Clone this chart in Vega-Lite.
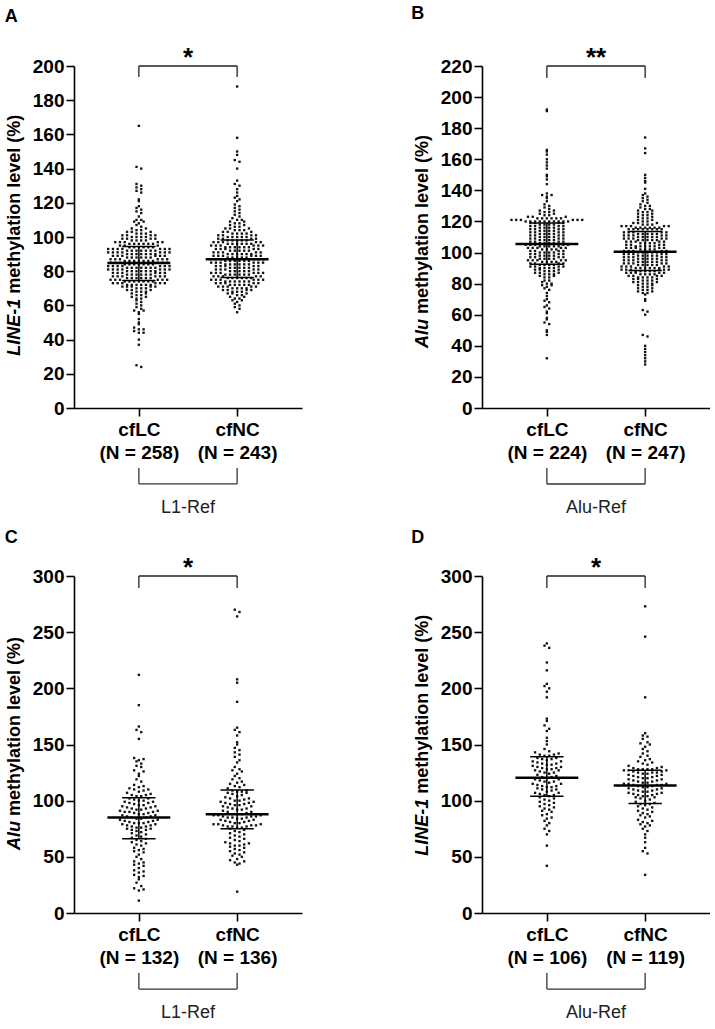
{
"$schema":"https://vega.github.io/schema/vega-lite/v6.json",
"padding":{"left":4,"top":5,"right":0,"bottom":0},
"config":{"font":"Liberation Sans","view":{"stroke":null},
"axis":{"grid":false,"domainColor":"#000","domainWidth":1.6,"tickColor":"#000","tickWidth":1.6,"tickSize":8,"labelColor":"#000","labelFont":"Liberation Sans","labelFontSize":19,"labelFontWeight":"bold","labelOverlap":false,"labelFlush":false}},
"datasets":{
"A":[
{"g":"LC","v":165},{"g":"LC","v":141},{"g":"LC","v":140},{"g":"LC","v":131},{"g":"LC","v":130},{"g":"LC","v":129},{"g":"LC","v":128},{"g":"LC","v":127},{"g":"LC","v":126},{"g":"LC","v":122},{"g":"LC","v":121},{"g":"LC","v":118},{"g":"LC","v":117},{"g":"LC","v":116},{"g":"LC","v":115},{"g":"LC","v":114},{"g":"LC","v":112},{"g":"LC","v":110},{"g":"LC","v":110},{"g":"LC","v":109},{"g":"LC","v":109},{"g":"LC","v":108},{"g":"LC","v":107},{"g":"LC","v":106},
{"g":"LC","v":105},{"g":"LC","v":105},{"g":"LC","v":104},{"g":"LC","v":104},{"g":"LC","v":103},{"g":"LC","v":103},{"g":"LC","v":103},{"g":"LC","v":102},{"g":"LC","v":102},{"g":"LC","v":102},{"g":"LC","v":101},{"g":"LC","v":101},{"g":"LC","v":101},{"g":"LC","v":101},{"g":"LC","v":100},{"g":"LC","v":100},{"g":"LC","v":100},{"g":"LC","v":100},{"g":"LC","v":99},{"g":"LC","v":99},{"g":"LC","v":99},{"g":"LC","v":99},{"g":"LC","v":98},{"g":"LC","v":98},{"g":"LC","v":98},{"g":"LC","v":98},{"g":"LC","v":97},{"g":"LC","v":97},{"g":"LC","v":97},{"g":"LC","v":97},{"g":"LC","v":97},{"g":"LC","v":96},{"g":"LC","v":96},{"g":"LC","v":96},{"g":"LC","v":96},{"g":"LC","v":96},{"g":"LC","v":96},{"g":"LC","v":95},{"g":"LC","v":95},{"g":"LC","v":95},
{"g":"LC","v":94},{"g":"LC","v":94},{"g":"LC","v":94},{"g":"LC","v":94},{"g":"LC","v":94},{"g":"LC","v":94},
{"g":"LC","v":93},{"g":"LC","v":93},{"g":"LC","v":93},{"g":"LC","v":93},{"g":"LC","v":93},{"g":"LC","v":93},{"g":"LC","v":93},
{"g":"LC","v":92},{"g":"LC","v":92},{"g":"LC","v":92},{"g":"LC","v":92},{"g":"LC","v":92},{"g":"LC","v":92},{"g":"LC","v":92},
{"g":"LC","v":91},{"g":"LC","v":91},{"g":"LC","v":91},{"g":"LC","v":91},{"g":"LC","v":91},{"g":"LC","v":91},{"g":"LC","v":91},
{"g":"LC","v":90},{"g":"LC","v":90},{"g":"LC","v":90},{"g":"LC","v":90},{"g":"LC","v":90},{"g":"LC","v":90},{"g":"LC","v":90},
{"g":"LC","v":89},{"g":"LC","v":89},{"g":"LC","v":89},{"g":"LC","v":89},{"g":"LC","v":89},{"g":"LC","v":89},
{"g":"LC","v":88},{"g":"LC","v":88},{"g":"LC","v":88},{"g":"LC","v":88},{"g":"LC","v":88},{"g":"LC","v":88},
{"g":"LC","v":87},{"g":"LC","v":87},{"g":"LC","v":87},{"g":"LC","v":87},{"g":"LC","v":87},{"g":"LC","v":87},
{"g":"LC","v":86},{"g":"LC","v":86},{"g":"LC","v":86},{"g":"LC","v":86},{"g":"LC","v":86},{"g":"LC","v":86},{"g":"LC","v":86},
{"g":"LC","v":85},{"g":"LC","v":85},{"g":"LC","v":85},{"g":"LC","v":85},{"g":"LC","v":85},{"g":"LC","v":85},
{"g":"LC","v":84},{"g":"LC","v":84},{"g":"LC","v":84},{"g":"LC","v":84},{"g":"LC","v":84},{"g":"LC","v":84},{"g":"LC","v":84},
{"g":"LC","v":83},{"g":"LC","v":83},{"g":"LC","v":83},{"g":"LC","v":83},{"g":"LC","v":83},{"g":"LC","v":83},{"g":"LC","v":83},
{"g":"LC","v":82},{"g":"LC","v":82},{"g":"LC","v":82},{"g":"LC","v":82},{"g":"LC","v":82},{"g":"LC","v":82},{"g":"LC","v":82},
{"g":"LC","v":81},{"g":"LC","v":81},{"g":"LC","v":81},{"g":"LC","v":81},{"g":"LC","v":81},{"g":"LC","v":81},{"g":"LC","v":81},
{"g":"LC","v":80},{"g":"LC","v":80},{"g":"LC","v":80},{"g":"LC","v":80},{"g":"LC","v":80},{"g":"LC","v":80},{"g":"LC","v":80},
{"g":"LC","v":79},{"g":"LC","v":79},{"g":"LC","v":79},{"g":"LC","v":79},{"g":"LC","v":79},{"g":"LC","v":79},
{"g":"LC","v":78},{"g":"LC","v":78},{"g":"LC","v":78},{"g":"LC","v":78},{"g":"LC","v":78},{"g":"LC","v":78},
{"g":"LC","v":77},{"g":"LC","v":77},{"g":"LC","v":77},{"g":"LC","v":77},{"g":"LC","v":77},{"g":"LC","v":77},
{"g":"LC","v":76},{"g":"LC","v":76},{"g":"LC","v":76},{"g":"LC","v":76},{"g":"LC","v":76},{"g":"LC","v":76},
{"g":"LC","v":75},{"g":"LC","v":75},{"g":"LC","v":75},{"g":"LC","v":75},{"g":"LC","v":75},{"g":"LC","v":75},
{"g":"LC","v":74},{"g":"LC","v":74},{"g":"LC","v":74},{"g":"LC","v":74},{"g":"LC","v":74},{"g":"LC","v":74},{"g":"LC","v":74},
{"g":"LC","v":73},{"g":"LC","v":73},{"g":"LC","v":73},{"g":"LC","v":73},{"g":"LC","v":73},{"g":"LC","v":73},
{"g":"LC","v":72},{"g":"LC","v":72},{"g":"LC","v":72},{"g":"LC","v":72},{"g":"LC","v":72},{"g":"LC","v":72},
{"g":"LC","v":71},{"g":"LC","v":71},{"g":"LC","v":71},{"g":"LC","v":71},{"g":"LC","v":71},
{"g":"LC","v":70},{"g":"LC","v":70},{"g":"LC","v":70},{"g":"LC","v":69},{"g":"LC","v":69},{"g":"LC","v":69},{"g":"LC","v":68},{"g":"LC","v":68},{"g":"LC","v":68},{"g":"LC","v":67},{"g":"LC","v":67},{"g":"LC","v":66},{"g":"LC","v":66},{"g":"LC","v":65},{"g":"LC","v":65},{"g":"LC","v":64},{"g":"LC","v":64},{"g":"LC","v":63},{"g":"LC","v":62},{"g":"LC","v":61},{"g":"LC","v":60},{"g":"LC","v":59},{"g":"LC","v":58},{"g":"LC","v":57},{"g":"LC","v":57},{"g":"LC","v":56},{"g":"LC","v":55},{"g":"LC","v":52},{"g":"LC","v":50},{"g":"LC","v":49},{"g":"LC","v":47},{"g":"LC","v":46},{"g":"LC","v":46},{"g":"LC","v":45},{"g":"LC","v":44},{"g":"LC","v":44},{"g":"LC","v":40},{"g":"LC","v":37},{"g":"LC","v":25},{"g":"LC","v":24},
{"g":"NC","v":188},{"g":"NC","v":158},{"g":"NC","v":150},{"g":"NC","v":148},{"g":"NC","v":145},{"g":"NC","v":144},{"g":"NC","v":140},{"g":"NC","v":133},{"g":"NC","v":131},{"g":"NC","v":130},{"g":"NC","v":128},{"g":"NC","v":126},{"g":"NC","v":124},{"g":"NC","v":123},{"g":"NC","v":122},{"g":"NC","v":121},{"g":"NC","v":119},{"g":"NC","v":118},{"g":"NC","v":117},{"g":"NC","v":116},{"g":"NC","v":115},{"g":"NC","v":114},{"g":"NC","v":113},{"g":"NC","v":112},{"g":"NC","v":111},{"g":"NC","v":110},{"g":"NC","v":110},{"g":"NC","v":109},{"g":"NC","v":109},{"g":"NC","v":108},{"g":"NC","v":108},{"g":"NC","v":107},{"g":"NC","v":107},{"g":"NC","v":106},{"g":"NC","v":106},{"g":"NC","v":105},{"g":"NC","v":105},{"g":"NC","v":105},{"g":"NC","v":104},{"g":"NC","v":104},{"g":"NC","v":104},{"g":"NC","v":103},{"g":"NC","v":103},{"g":"NC","v":103},{"g":"NC","v":102},{"g":"NC","v":102},{"g":"NC","v":102},{"g":"NC","v":102},{"g":"NC","v":101},{"g":"NC","v":101},{"g":"NC","v":101},{"g":"NC","v":101},{"g":"NC","v":100},{"g":"NC","v":100},{"g":"NC","v":100},{"g":"NC","v":100},{"g":"NC","v":100},{"g":"NC","v":99},{"g":"NC","v":99},{"g":"NC","v":99},{"g":"NC","v":99},
{"g":"NC","v":98},{"g":"NC","v":98},{"g":"NC","v":98},{"g":"NC","v":98},{"g":"NC","v":98},
{"g":"NC","v":97},{"g":"NC","v":97},{"g":"NC","v":97},{"g":"NC","v":97},{"g":"NC","v":97},
{"g":"NC","v":96},{"g":"NC","v":96},{"g":"NC","v":96},{"g":"NC","v":96},{"g":"NC","v":96},{"g":"NC","v":96},
{"g":"NC","v":95},{"g":"NC","v":95},{"g":"NC","v":95},{"g":"NC","v":95},{"g":"NC","v":95},{"g":"NC","v":95},
{"g":"NC","v":94},{"g":"NC","v":94},{"g":"NC","v":94},{"g":"NC","v":94},{"g":"NC","v":94},{"g":"NC","v":94},
{"g":"NC","v":93},{"g":"NC","v":93},{"g":"NC","v":93},{"g":"NC","v":93},{"g":"NC","v":93},
{"g":"NC","v":92},{"g":"NC","v":92},{"g":"NC","v":92},{"g":"NC","v":92},{"g":"NC","v":92},
{"g":"NC","v":91},{"g":"NC","v":91},{"g":"NC","v":91},{"g":"NC","v":91},{"g":"NC","v":91},
{"g":"NC","v":90},{"g":"NC","v":90},{"g":"NC","v":90},{"g":"NC","v":90},{"g":"NC","v":90},{"g":"NC","v":90},
{"g":"NC","v":89},{"g":"NC","v":89},{"g":"NC","v":89},{"g":"NC","v":89},{"g":"NC","v":89},{"g":"NC","v":89},
{"g":"NC","v":88},{"g":"NC","v":88},{"g":"NC","v":88},{"g":"NC","v":88},{"g":"NC","v":88},
{"g":"NC","v":87},{"g":"NC","v":87},{"g":"NC","v":87},{"g":"NC","v":87},{"g":"NC","v":87},{"g":"NC","v":87},
{"g":"NC","v":86},{"g":"NC","v":86},{"g":"NC","v":86},{"g":"NC","v":86},{"g":"NC","v":86},{"g":"NC","v":86},
{"g":"NC","v":85},{"g":"NC","v":85},{"g":"NC","v":85},{"g":"NC","v":85},{"g":"NC","v":85},{"g":"NC","v":85},
{"g":"NC","v":84},{"g":"NC","v":84},{"g":"NC","v":84},{"g":"NC","v":84},{"g":"NC","v":84},{"g":"NC","v":84},
{"g":"NC","v":83},{"g":"NC","v":83},{"g":"NC","v":83},{"g":"NC","v":83},{"g":"NC","v":83},
{"g":"NC","v":82},{"g":"NC","v":82},{"g":"NC","v":82},{"g":"NC","v":82},{"g":"NC","v":82},
{"g":"NC","v":81},{"g":"NC","v":81},{"g":"NC","v":81},{"g":"NC","v":81},{"g":"NC","v":81},
{"g":"NC","v":80},{"g":"NC","v":80},{"g":"NC","v":80},{"g":"NC","v":80},{"g":"NC","v":80},
{"g":"NC","v":79},{"g":"NC","v":79},{"g":"NC","v":79},{"g":"NC","v":79},{"g":"NC","v":79},{"g":"NC","v":79},
{"g":"NC","v":78},{"g":"NC","v":78},{"g":"NC","v":78},{"g":"NC","v":78},{"g":"NC","v":78},{"g":"NC","v":78},
{"g":"NC","v":77},{"g":"NC","v":77},{"g":"NC","v":77},{"g":"NC","v":77},{"g":"NC","v":77},
{"g":"NC","v":76},{"g":"NC","v":76},{"g":"NC","v":76},{"g":"NC","v":76},{"g":"NC","v":76},{"g":"NC","v":76},
{"g":"NC","v":75},{"g":"NC","v":75},{"g":"NC","v":75},{"g":"NC","v":75},{"g":"NC","v":75},{"g":"NC","v":75},
{"g":"NC","v":74},{"g":"NC","v":74},{"g":"NC","v":74},{"g":"NC","v":74},{"g":"NC","v":74},{"g":"NC","v":74},
{"g":"NC","v":73},{"g":"NC","v":73},{"g":"NC","v":73},{"g":"NC","v":73},{"g":"NC","v":73},
{"g":"NC","v":72},{"g":"NC","v":72},{"g":"NC","v":72},{"g":"NC","v":72},{"g":"NC","v":72},
{"g":"NC","v":71},{"g":"NC","v":71},{"g":"NC","v":71},{"g":"NC","v":71},{"g":"NC","v":71},
{"g":"NC","v":70},{"g":"NC","v":70},{"g":"NC","v":70},{"g":"NC","v":70},
{"g":"NC","v":69},{"g":"NC","v":69},{"g":"NC","v":69},{"g":"NC","v":69},
{"g":"NC","v":68},{"g":"NC","v":68},{"g":"NC","v":68},{"g":"NC","v":67},{"g":"NC","v":67},{"g":"NC","v":67},
{"g":"NC","v":66},{"g":"NC","v":66},{"g":"NC","v":65},{"g":"NC","v":65},{"g":"NC","v":64},{"g":"NC","v":64},{"g":"NC","v":63},{"g":"NC","v":63},{"g":"NC","v":62},{"g":"NC","v":61},{"g":"NC","v":60},{"g":"NC","v":59},{"g":"NC","v":58},{"g":"NC","v":56}
],
"B":[
{"g":"LC","v":192},{"g":"LC","v":191},{"g":"LC","v":166},{"g":"LC","v":165},{"g":"LC","v":163},{"g":"LC","v":160},{"g":"LC","v":158},{"g":"LC","v":156},{"g":"LC","v":154},{"g":"LC","v":150},
{"g":"LC","v":149},{"g":"LC","v":147},{"g":"LC","v":144},{"g":"LC","v":138},{"g":"LC","v":137},{"g":"LC","v":137},{"g":"LC","v":136},{"g":"LC","v":135},{"g":"LC","v":133},{"g":"LC","v":131},
{"g":"LC","v":130},{"g":"LC","v":129},{"g":"LC","v":128},{"g":"LC","v":127},{"g":"LC","v":127},{"g":"LC","v":126},{"g":"LC","v":126},{"g":"LC","v":125},{"g":"LC","v":125},{"g":"LC","v":124},
{"g":"LC","v":124},{"g":"LC","v":123},{"g":"LC","v":123},{"g":"LC","v":123},{"g":"LC","v":122},{"g":"LC","v":122},{"g":"LC","v":122},{"g":"LC","v":122},{"g":"LC","v":122},{"g":"LC","v":122},
{"g":"LC","v":121},{"g":"LC","v":121},{"g":"LC","v":121},{"g":"LC","v":121},{"g":"LC","v":121},{"g":"LC","v":121},{"g":"LC","v":120},{"g":"LC","v":120},{"g":"LC","v":120},{"g":"LC","v":120},
{"g":"LC","v":120},{"g":"LC","v":120},{"g":"LC","v":120},{"g":"LC","v":120},{"g":"LC","v":120},{"g":"LC","v":120},
{"g":"LC","v":119},{"g":"LC","v":119},{"g":"LC","v":119},{"g":"LC","v":119},{"g":"LC","v":118},{"g":"LC","v":118},{"g":"LC","v":118},{"g":"LC","v":118},{"g":"LC","v":117},{"g":"LC","v":117},{"g":"LC","v":117},{"g":"LC","v":117},{"g":"LC","v":116},{"g":"LC","v":116},{"g":"LC","v":116},{"g":"LC","v":116},{"g":"LC","v":115},{"g":"LC","v":115},{"g":"LC","v":115},{"g":"LC","v":115},{"g":"LC","v":114},{"g":"LC","v":114},{"g":"LC","v":114},{"g":"LC","v":114},{"g":"LC","v":113},{"g":"LC","v":113},{"g":"LC","v":113},{"g":"LC","v":113},{"g":"LC","v":112},{"g":"LC","v":112},{"g":"LC","v":112},{"g":"LC","v":112},{"g":"LC","v":111},{"g":"LC","v":111},{"g":"LC","v":111},{"g":"LC","v":111},{"g":"LC","v":110},{"g":"LC","v":110},{"g":"LC","v":110},{"g":"LC","v":110},{"g":"LC","v":109},{"g":"LC","v":109},{"g":"LC","v":109},{"g":"LC","v":109},{"g":"LC","v":108},{"g":"LC","v":108},{"g":"LC","v":108},{"g":"LC","v":108},{"g":"LC","v":107},{"g":"LC","v":107},{"g":"LC","v":107},{"g":"LC","v":107},{"g":"LC","v":106},{"g":"LC","v":106},{"g":"LC","v":106},{"g":"LC","v":106},
{"g":"LC","v":105},{"g":"LC","v":105},{"g":"LC","v":105},{"g":"LC","v":105},{"g":"LC","v":105},{"g":"LC","v":104},{"g":"LC","v":104},{"g":"LC","v":104},{"g":"LC","v":104},{"g":"LC","v":104},{"g":"LC","v":103},{"g":"LC","v":103},{"g":"LC","v":103},{"g":"LC","v":103},{"g":"LC","v":103},{"g":"LC","v":102},{"g":"LC","v":102},{"g":"LC","v":102},{"g":"LC","v":102},{"g":"LC","v":101},{"g":"LC","v":101},{"g":"LC","v":101},{"g":"LC","v":101},{"g":"LC","v":100},{"g":"LC","v":100},{"g":"LC","v":100},{"g":"LC","v":100},{"g":"LC","v":99},{"g":"LC","v":99},{"g":"LC","v":99},{"g":"LC","v":99},{"g":"LC","v":98},{"g":"LC","v":98},{"g":"LC","v":98},{"g":"LC","v":98},{"g":"LC","v":97},{"g":"LC","v":97},{"g":"LC","v":97},{"g":"LC","v":97},{"g":"LC","v":96},{"g":"LC","v":96},{"g":"LC","v":96},{"g":"LC","v":96},{"g":"LC","v":95},{"g":"LC","v":95},{"g":"LC","v":95},{"g":"LC","v":95},{"g":"LC","v":95},{"g":"LC","v":94},{"g":"LC","v":94},{"g":"LC","v":94},{"g":"LC","v":94},{"g":"LC","v":93},{"g":"LC","v":93},{"g":"LC","v":93},{"g":"LC","v":93},
{"g":"LC","v":92},{"g":"LC","v":92},{"g":"LC","v":92},{"g":"LC","v":92},{"g":"LC","v":91},{"g":"LC","v":91},{"g":"LC","v":91},{"g":"LC","v":91},{"g":"LC","v":90},{"g":"LC","v":90},{"g":"LC","v":90},{"g":"LC","v":90},{"g":"LC","v":89},{"g":"LC","v":89},{"g":"LC","v":89},{"g":"LC","v":88},{"g":"LC","v":88},{"g":"LC","v":88},{"g":"LC","v":87},{"g":"LC","v":87},{"g":"LC","v":87},{"g":"LC","v":86},{"g":"LC","v":86},{"g":"LC","v":86},{"g":"LC","v":85},{"g":"LC","v":85},{"g":"LC","v":84},{"g":"LC","v":84},{"g":"LC","v":82},{"g":"LC","v":82},{"g":"LC","v":81},{"g":"LC","v":80},{"g":"LC","v":80},{"g":"LC","v":79},{"g":"LC","v":79},{"g":"LC","v":78},{"g":"LC","v":77},{"g":"LC","v":76},{"g":"LC","v":74},{"g":"LC","v":72},{"g":"LC","v":70},{"g":"LC","v":69},{"g":"LC","v":68},{"g":"LC","v":66},{"g":"LC","v":65},{"g":"LC","v":64},{"g":"LC","v":62},{"g":"LC","v":61},{"g":"LC","v":58},{"g":"LC","v":57},{"g":"LC","v":55},{"g":"LC","v":54},{"g":"LC","v":50},{"g":"LC","v":49},{"g":"LC","v":47},{"g":"LC","v":32},
{"g":"NC","v":174},{"g":"NC","v":167},{"g":"NC","v":164},{"g":"NC","v":150},{"g":"NC","v":148},{"g":"NC","v":146},{"g":"NC","v":145},{"g":"NC","v":141},{"g":"NC","v":138},{"g":"NC","v":137},
{"g":"NC","v":136},{"g":"NC","v":135},{"g":"NC","v":134},{"g":"NC","v":133},{"g":"NC","v":132},{"g":"NC","v":131},{"g":"NC","v":130},{"g":"NC","v":130},{"g":"NC","v":129},{"g":"NC","v":128},
{"g":"NC","v":128},{"g":"NC","v":127},{"g":"NC","v":127},{"g":"NC","v":126},{"g":"NC","v":126},{"g":"NC","v":125},{"g":"NC","v":125},{"g":"NC","v":124},{"g":"NC","v":124},{"g":"NC","v":123},
{"g":"NC","v":123},{"g":"NC","v":122},{"g":"NC","v":122},{"g":"NC","v":121},{"g":"NC","v":121},{"g":"NC","v":120},{"g":"NC","v":120},{"g":"NC","v":119},{"g":"NC","v":119},{"g":"NC","v":119},
{"g":"NC","v":118},{"g":"NC","v":118},{"g":"NC","v":118},{"g":"NC","v":117},{"g":"NC","v":117},{"g":"NC","v":117},{"g":"NC","v":117},{"g":"NC","v":117},{"g":"NC","v":116},{"g":"NC","v":116},
{"g":"NC","v":116},{"g":"NC","v":116},{"g":"NC","v":116},{"g":"NC","v":116},{"g":"NC","v":115},{"g":"NC","v":115},{"g":"NC","v":115},{"g":"NC","v":115},{"g":"NC","v":115},{"g":"NC","v":115},{"g":"NC","v":115},{"g":"NC","v":115},
{"g":"NC","v":113},{"g":"NC","v":113},{"g":"NC","v":113},{"g":"NC","v":113},{"g":"NC","v":113},{"g":"NC","v":112},{"g":"NC","v":112},{"g":"NC","v":112},{"g":"NC","v":112},{"g":"NC","v":112},{"g":"NC","v":111},{"g":"NC","v":111},{"g":"NC","v":111},{"g":"NC","v":111},{"g":"NC","v":111},{"g":"NC","v":110},{"g":"NC","v":110},{"g":"NC","v":110},{"g":"NC","v":110},{"g":"NC","v":110},{"g":"NC","v":109},{"g":"NC","v":109},{"g":"NC","v":109},{"g":"NC","v":109},{"g":"NC","v":109},{"g":"NC","v":108},{"g":"NC","v":108},{"g":"NC","v":108},{"g":"NC","v":108},{"g":"NC","v":108},{"g":"NC","v":107},{"g":"NC","v":107},{"g":"NC","v":107},{"g":"NC","v":107},{"g":"NC","v":107},{"g":"NC","v":106},{"g":"NC","v":106},{"g":"NC","v":106},{"g":"NC","v":106},{"g":"NC","v":105},{"g":"NC","v":105},{"g":"NC","v":105},{"g":"NC","v":105},{"g":"NC","v":104},{"g":"NC","v":104},{"g":"NC","v":104},{"g":"NC","v":104},{"g":"NC","v":104},{"g":"NC","v":103},{"g":"NC","v":103},{"g":"NC","v":103},{"g":"NC","v":103},{"g":"NC","v":103},{"g":"NC","v":102},{"g":"NC","v":102},{"g":"NC","v":102},{"g":"NC","v":102},{"g":"NC","v":101},{"g":"NC","v":101},{"g":"NC","v":101},{"g":"NC","v":101},{"g":"NC","v":101},
{"g":"NC","v":100},{"g":"NC","v":100},{"g":"NC","v":100},{"g":"NC","v":100},{"g":"NC","v":100},{"g":"NC","v":99},{"g":"NC","v":99},{"g":"NC","v":99},{"g":"NC","v":99},{"g":"NC","v":99},{"g":"NC","v":98},{"g":"NC","v":98},{"g":"NC","v":98},{"g":"NC","v":98},{"g":"NC","v":98},{"g":"NC","v":97},{"g":"NC","v":97},{"g":"NC","v":97},{"g":"NC","v":97},{"g":"NC","v":97},{"g":"NC","v":96},{"g":"NC","v":96},{"g":"NC","v":96},{"g":"NC","v":96},{"g":"NC","v":96},{"g":"NC","v":95},{"g":"NC","v":95},{"g":"NC","v":95},{"g":"NC","v":95},{"g":"NC","v":95},{"g":"NC","v":94},{"g":"NC","v":94},{"g":"NC","v":94},{"g":"NC","v":94},{"g":"NC","v":94},{"g":"NC","v":93},{"g":"NC","v":93},{"g":"NC","v":93},{"g":"NC","v":93},{"g":"NC","v":93},{"g":"NC","v":92},{"g":"NC","v":92},{"g":"NC","v":92},{"g":"NC","v":92},{"g":"NC","v":92},{"g":"NC","v":91},{"g":"NC","v":91},{"g":"NC","v":91},{"g":"NC","v":91},{"g":"NC","v":91},{"g":"NC","v":90},{"g":"NC","v":90},{"g":"NC","v":90},{"g":"NC","v":90},{"g":"NC","v":90},{"g":"NC","v":90},{"g":"NC","v":89},{"g":"NC","v":89},{"g":"NC","v":89},{"g":"NC","v":89},{"g":"NC","v":89},{"g":"NC","v":89},
{"g":"NC","v":88},{"g":"NC","v":88},{"g":"NC","v":88},{"g":"NC","v":88},{"g":"NC","v":88},{"g":"NC","v":87},{"g":"NC","v":87},{"g":"NC","v":87},{"g":"NC","v":87},{"g":"NC","v":87},{"g":"NC","v":86},{"g":"NC","v":86},{"g":"NC","v":86},{"g":"NC","v":86},{"g":"NC","v":85},{"g":"NC","v":85},{"g":"NC","v":85},{"g":"NC","v":85},{"g":"NC","v":84},{"g":"NC","v":84},{"g":"NC","v":84},{"g":"NC","v":84},{"g":"NC","v":83},{"g":"NC","v":83},{"g":"NC","v":83},{"g":"NC","v":82},{"g":"NC","v":82},{"g":"NC","v":82},{"g":"NC","v":81},{"g":"NC","v":81},{"g":"NC","v":81},{"g":"NC","v":80},{"g":"NC","v":80},{"g":"NC","v":80},{"g":"NC","v":79},{"g":"NC","v":79},{"g":"NC","v":78},{"g":"NC","v":78},{"g":"NC","v":77},{"g":"NC","v":77},{"g":"NC","v":76},{"g":"NC","v":76},{"g":"NC","v":75},{"g":"NC","v":75},{"g":"NC","v":74},{"g":"NC","v":74},{"g":"NC","v":73},{"g":"NC","v":70},{"g":"NC","v":69},{"g":"NC","v":63},{"g":"NC","v":62},{"g":"NC","v":60},{"g":"NC","v":47},{"g":"NC","v":46},{"g":"NC","v":40},{"g":"NC","v":38},{"g":"NC","v":36},{"g":"NC","v":34},{"g":"NC","v":32},{"g":"NC","v":30},{"g":"NC","v":28}
],
"C":[
{"g":"LC","v":212},{"g":"LC","v":185},{"g":"LC","v":166},{"g":"LC","v":163},{"g":"LC","v":161},{"g":"LC","v":155},{"g":"LC","v":138},{"g":"LC","v":137},{"g":"LC","v":136},{"g":"LC","v":135},{"g":"LC","v":133},{"g":"LC","v":131},{"g":"LC","v":130},{"g":"LC","v":127},{"g":"LC","v":126},{"g":"LC","v":124},{"g":"LC","v":122},{"g":"LC","v":119},{"g":"LC","v":117},{"g":"LC","v":114},{"g":"LC","v":113},{"g":"LC","v":112},{"g":"LC","v":111},{"g":"LC","v":110},{"g":"LC","v":110},{"g":"LC","v":109},{"g":"LC","v":108},{"g":"LC","v":107},{"g":"LC","v":106},{"g":"LC","v":105},{"g":"LC","v":105},{"g":"LC","v":104},{"g":"LC","v":104},
{"g":"LC","v":102},{"g":"LC","v":102},{"g":"LC","v":101},{"g":"LC","v":100},{"g":"LC","v":100},{"g":"LC","v":99},{"g":"LC","v":99},{"g":"LC","v":98},{"g":"LC","v":98},{"g":"LC","v":97},{"g":"LC","v":96},{"g":"LC","v":96},{"g":"LC","v":95},{"g":"LC","v":95},{"g":"LC","v":94},{"g":"LC","v":94},{"g":"LC","v":93},{"g":"LC","v":93},{"g":"LC","v":92},{"g":"LC","v":92},{"g":"LC","v":91},{"g":"LC","v":91},{"g":"LC","v":90},{"g":"LC","v":90},{"g":"LC","v":90},{"g":"LC","v":89},{"g":"LC","v":89},{"g":"LC","v":88},{"g":"LC","v":88},{"g":"LC","v":87},{"g":"LC","v":87},{"g":"LC","v":86},{"g":"LC","v":86},
{"g":"LC","v":85},{"g":"LC","v":85},{"g":"LC","v":84},{"g":"LC","v":84},{"g":"LC","v":83},{"g":"LC","v":83},{"g":"LC","v":82},{"g":"LC","v":82},{"g":"LC","v":81},{"g":"LC","v":81},{"g":"LC","v":80},{"g":"LC","v":80},{"g":"LC","v":80},{"g":"LC","v":79},{"g":"LC","v":79},{"g":"LC","v":78},{"g":"LC","v":78},{"g":"LC","v":77},{"g":"LC","v":77},{"g":"LC","v":76},{"g":"LC","v":76},{"g":"LC","v":75},{"g":"LC","v":75},{"g":"LC","v":74},{"g":"LC","v":74},{"g":"LC","v":73},{"g":"LC","v":72},{"g":"LC","v":71},{"g":"LC","v":70},{"g":"LC","v":69},{"g":"LC","v":68},{"g":"LC","v":67},{"g":"LC","v":66},
{"g":"LC","v":65},{"g":"LC","v":64},{"g":"LC","v":63},{"g":"LC","v":62},{"g":"LC","v":61},{"g":"LC","v":60},{"g":"LC","v":58},{"g":"LC","v":57},{"g":"LC","v":56},{"g":"LC","v":55},{"g":"LC","v":54},{"g":"LC","v":52},{"g":"LC","v":50},{"g":"LC","v":48},{"g":"LC","v":46},{"g":"LC","v":45},{"g":"LC","v":44},{"g":"LC","v":43},{"g":"LC","v":42},{"g":"LC","v":40},{"g":"LC","v":38},{"g":"LC","v":37},{"g":"LC","v":36},{"g":"LC","v":34},{"g":"LC","v":33},{"g":"LC","v":32},{"g":"LC","v":30},{"g":"LC","v":27},{"g":"LC","v":24},{"g":"LC","v":22},{"g":"LC","v":21},{"g":"LC","v":20},{"g":"LC","v":11},
{"g":"NC","v":270},{"g":"NC","v":268},{"g":"NC","v":264},{"g":"NC","v":208},{"g":"NC","v":205},{"g":"NC","v":188},{"g":"NC","v":165},{"g":"NC","v":163},{"g":"NC","v":161},{"g":"NC","v":158},{"g":"NC","v":152},{"g":"NC","v":150},{"g":"NC","v":147},{"g":"NC","v":145},{"g":"NC","v":143},{"g":"NC","v":141},{"g":"NC","v":139},{"g":"NC","v":136},{"g":"NC","v":134},{"g":"NC","v":130},{"g":"NC","v":128},{"g":"NC","v":127},{"g":"NC","v":126},{"g":"NC","v":124},{"g":"NC","v":122},{"g":"NC","v":120},{"g":"NC","v":119},{"g":"NC","v":117},{"g":"NC","v":116},{"g":"NC","v":115},{"g":"NC","v":114},{"g":"NC","v":113},{"g":"NC","v":112},{"g":"NC","v":111},
{"g":"NC","v":109},{"g":"NC","v":109},{"g":"NC","v":108},{"g":"NC","v":108},{"g":"NC","v":107},{"g":"NC","v":107},{"g":"NC","v":106},{"g":"NC","v":105},{"g":"NC","v":104},{"g":"NC","v":103},{"g":"NC","v":102},{"g":"NC","v":102},{"g":"NC","v":101},{"g":"NC","v":100},{"g":"NC","v":100},{"g":"NC","v":99},{"g":"NC","v":99},{"g":"NC","v":98},{"g":"NC","v":98},{"g":"NC","v":97},{"g":"NC","v":97},{"g":"NC","v":96},{"g":"NC","v":96},{"g":"NC","v":95},{"g":"NC","v":95},{"g":"NC","v":94},{"g":"NC","v":93},{"g":"NC","v":93},{"g":"NC","v":92},{"g":"NC","v":92},{"g":"NC","v":91},{"g":"NC","v":90},{"g":"NC","v":90},{"g":"NC","v":89},
{"g":"NC","v":88},{"g":"NC","v":88},{"g":"NC","v":88},{"g":"NC","v":87},{"g":"NC","v":87},{"g":"NC","v":87},{"g":"NC","v":86},{"g":"NC","v":86},{"g":"NC","v":86},{"g":"NC","v":85},{"g":"NC","v":85},{"g":"NC","v":85},{"g":"NC","v":84},{"g":"NC","v":84},{"g":"NC","v":83},{"g":"NC","v":83},{"g":"NC","v":82},{"g":"NC","v":82},{"g":"NC","v":81},{"g":"NC","v":81},{"g":"NC","v":80},{"g":"NC","v":80},{"g":"NC","v":79},{"g":"NC","v":79},{"g":"NC","v":79},{"g":"NC","v":78},{"g":"NC","v":78},{"g":"NC","v":78},{"g":"NC","v":77},{"g":"NC","v":77},{"g":"NC","v":77},{"g":"NC","v":76},{"g":"NC","v":76},{"g":"NC","v":75},
{"g":"NC","v":74},{"g":"NC","v":73},{"g":"NC","v":72},{"g":"NC","v":71},{"g":"NC","v":70},{"g":"NC","v":69},{"g":"NC","v":68},{"g":"NC","v":67},{"g":"NC","v":66},{"g":"NC","v":65},{"g":"NC","v":64},{"g":"NC","v":63},{"g":"NC","v":62},{"g":"NC","v":62},{"g":"NC","v":61},{"g":"NC","v":60},{"g":"NC","v":60},{"g":"NC","v":59},{"g":"NC","v":58},{"g":"NC","v":57},{"g":"NC","v":56},{"g":"NC","v":55},{"g":"NC","v":54},{"g":"NC","v":53},{"g":"NC","v":52},{"g":"NC","v":51},{"g":"NC","v":50},{"g":"NC","v":48},{"g":"NC","v":47},{"g":"NC","v":46},{"g":"NC","v":45},{"g":"NC","v":44},{"g":"NC","v":43},{"g":"NC","v":19}
],
"D":[
{"g":"LC","v":240},{"g":"LC","v":238},{"g":"LC","v":236},{"g":"LC","v":223},{"g":"LC","v":216},{"g":"LC","v":204},{"g":"LC","v":202},{"g":"LC","v":200},{"g":"LC","v":197},{"g":"LC","v":192},{"g":"LC","v":173},{"g":"LC","v":171},{"g":"LC","v":167},{"g":"LC","v":164},{"g":"LC","v":162},{"g":"LC","v":156},{"g":"LC","v":153},{"g":"LC","v":150},{"g":"LC","v":146},{"g":"LC","v":144},{"g":"LC","v":143},{"g":"LC","v":142},{"g":"LC","v":141},{"g":"LC","v":141},{"g":"LC","v":140},{"g":"LC","v":140},
{"g":"LC","v":138},{"g":"LC","v":138},{"g":"LC","v":137},{"g":"LC","v":137},{"g":"LC","v":136},{"g":"LC","v":135},{"g":"LC","v":135},{"g":"LC","v":134},{"g":"LC","v":133},{"g":"LC","v":133},{"g":"LC","v":132},{"g":"LC","v":132},{"g":"LC","v":131},{"g":"LC","v":130},{"g":"LC","v":130},{"g":"LC","v":129},{"g":"LC","v":129},{"g":"LC","v":128},{"g":"LC","v":128},{"g":"LC","v":127},{"g":"LC","v":127},{"g":"LC","v":126},{"g":"LC","v":125},{"g":"LC","v":125},{"g":"LC","v":124},{"g":"LC","v":123},{"g":"LC","v":122},
{"g":"LC","v":121},{"g":"LC","v":121},{"g":"LC","v":120},{"g":"LC","v":119},{"g":"LC","v":119},{"g":"LC","v":118},{"g":"LC","v":117},{"g":"LC","v":117},{"g":"LC","v":116},{"g":"LC","v":115},{"g":"LC","v":115},{"g":"LC","v":114},{"g":"LC","v":113},{"g":"LC","v":113},{"g":"LC","v":112},{"g":"LC","v":112},{"g":"LC","v":111},{"g":"LC","v":110},{"g":"LC","v":110},{"g":"LC","v":109},{"g":"LC","v":108},{"g":"LC","v":107},{"g":"LC","v":107},{"g":"LC","v":106},{"g":"LC","v":105},{"g":"LC","v":105},{"g":"LC","v":104},
{"g":"LC","v":103},{"g":"LC","v":102},{"g":"LC","v":101},{"g":"LC","v":100},{"g":"LC","v":99},{"g":"LC","v":98},{"g":"LC","v":97},{"g":"LC","v":96},{"g":"LC","v":95},{"g":"LC","v":94},{"g":"LC","v":93},{"g":"LC","v":92},{"g":"LC","v":91},{"g":"LC","v":90},{"g":"LC","v":88},{"g":"LC","v":87},{"g":"LC","v":85},{"g":"LC","v":84},{"g":"LC","v":82},{"g":"LC","v":80},{"g":"LC","v":78},{"g":"LC","v":75},{"g":"LC","v":73},{"g":"LC","v":70},{"g":"LC","v":60},{"g":"LC","v":42},
{"g":"NC","v":273},{"g":"NC","v":246},{"g":"NC","v":192},{"g":"NC","v":160},{"g":"NC","v":158},{"g":"NC","v":157},{"g":"NC","v":155},{"g":"NC","v":152},{"g":"NC","v":151},{"g":"NC","v":150},{"g":"NC","v":148},{"g":"NC","v":146},{"g":"NC","v":144},{"g":"NC","v":142},{"g":"NC","v":140},{"g":"NC","v":139},{"g":"NC","v":137},{"g":"NC","v":136},{"g":"NC","v":135},{"g":"NC","v":134},{"g":"NC","v":133},{"g":"NC","v":132},{"g":"NC","v":131},{"g":"NC","v":130},{"g":"NC","v":129},{"g":"NC","v":129},{"g":"NC","v":128},{"g":"NC","v":128},{"g":"NC","v":128},{"g":"NC","v":128},
{"g":"NC","v":127},{"g":"NC","v":127},{"g":"NC","v":127},{"g":"NC","v":126},{"g":"NC","v":126},{"g":"NC","v":125},{"g":"NC","v":125},{"g":"NC","v":125},{"g":"NC","v":124},{"g":"NC","v":124},{"g":"NC","v":123},{"g":"NC","v":123},{"g":"NC","v":122},{"g":"NC","v":122},{"g":"NC","v":121},{"g":"NC","v":121},{"g":"NC","v":120},{"g":"NC","v":120},{"g":"NC","v":119},{"g":"NC","v":119},{"g":"NC","v":118},{"g":"NC","v":118},{"g":"NC","v":117},{"g":"NC","v":117},{"g":"NC","v":116},{"g":"NC","v":116},{"g":"NC","v":115},{"g":"NC","v":115},{"g":"NC","v":115},
{"g":"NC","v":114},{"g":"NC","v":114},{"g":"NC","v":114},{"g":"NC","v":113},{"g":"NC","v":113},{"g":"NC","v":112},{"g":"NC","v":112},{"g":"NC","v":111},{"g":"NC","v":111},{"g":"NC","v":110},{"g":"NC","v":110},{"g":"NC","v":109},{"g":"NC","v":109},{"g":"NC","v":108},{"g":"NC","v":108},{"g":"NC","v":107},{"g":"NC","v":107},{"g":"NC","v":106},{"g":"NC","v":106},{"g":"NC","v":105},{"g":"NC","v":105},{"g":"NC","v":104},{"g":"NC","v":104},{"g":"NC","v":103},{"g":"NC","v":103},{"g":"NC","v":102},{"g":"NC","v":101},{"g":"NC","v":100},{"g":"NC","v":99},{"g":"NC","v":98},
{"g":"NC","v":97},{"g":"NC","v":97},{"g":"NC","v":96},{"g":"NC","v":95},{"g":"NC","v":94},{"g":"NC","v":93},{"g":"NC","v":92},{"g":"NC","v":91},{"g":"NC","v":90},{"g":"NC","v":89},{"g":"NC","v":88},{"g":"NC","v":87},{"g":"NC","v":86},{"g":"NC","v":85},{"g":"NC","v":83},{"g":"NC","v":82},{"g":"NC","v":81},{"g":"NC","v":80},{"g":"NC","v":79},{"g":"NC","v":78},{"g":"NC","v":77},{"g":"NC","v":75},{"g":"NC","v":73},{"g":"NC","v":70},{"g":"NC","v":67},{"g":"NC","v":63},{"g":"NC","v":58},{"g":"NC","v":55},{"g":"NC","v":53},{"g":"NC","v":34}
],
"S":[
{"p":"A","g":"LC","c":84.8,"lo":74.5,"hi":94.5},{"p":"A","g":"NC","c":87,"lo":76.3,"hi":98.3},
{"p":"B","g":"LC","c":105.5,"lo":92.5,"hi":119},{"p":"B","g":"NC","c":100.5,"lo":88.5,"hi":113.5},
{"p":"C","g":"LC","c":85,"lo":66,"hi":102.5},{"p":"C","g":"NC","c":88,"lo":75,"hi":109.5},
{"p":"D","g":"LC","c":120.5,"lo":104,"hi":139},{"p":"D","g":"NC","c":113.5,"lo":97.5,"hi":127}
]
},
"columns":2,
"spacing":{"row":168,"column":180},
"bounds":"flush",
"concat":[
{"width":228,"height":342,
"layer":[
{"data":{"name":"A"},
"transform":[
{"calculate":"floor(datum.v/2)","as":"row"},
{"joinaggregate":[{"op":"count","as":"n"}],"groupby":["g","row"]},
{"window":[{"op":"row_number","as":"k"}],"groupby":["g","row"],"sort":[{"field":"v","order":"ascending"}]},
{"calculate":"(datum.g=='LC'?0:1)+0.048*(datum.n%2==1?(datum.k%2==0?1:-1)*floor(datum.k/2):(datum.k%2==1?1:-1)*(ceil(datum.k/2)-0.5))","as":"xs"}],
"mark":{"type":"square","size":5.5,"color":"#111","opacity":1},
"encoding":{
"x":{"field":"xs","type":"quantitative","scale":{"domain":[-0.66,1.66],"nice":false,"zero":false},"axis":{"values":[0,1],"labelExpr":"datum.value==0?['cfLC','(N = 258)']:['cfNC','(N = 243)']","labelLineHeight":23,"labelPadding":4,"labelAngle":0,"labelOverlap":false,"labelFontSize":19,"title":null}},
"y":{"field":"v","type":"quantitative","scale":{"domain":[0,200],"nice":false},"axis":{"values":[0,20,40,60,80,100,120,140,160,180,200],"tickCount":11,"labelOverlap":false,"labelFontSize":19,"labelPadding":2,"title":null}}}},
{"data":{"name":"S"},
"transform":[{"filter":"datum.p=='A'"},{"calculate":"datum.g=='LC'?0:1","as":"gi"},{"calculate":"datum.gi-0.32","as":"m1"},{"calculate":"datum.gi+0.32","as":"m2"},{"calculate":"datum.gi-0.17","as":"e1"},{"calculate":"datum.gi+0.17","as":"e2"}],
"layer":[
{"mark":{"type":"rule","strokeWidth":2.5,"color":"#000"},"encoding":{"x":{"field":"m1","type":"quantitative","scale":{"domain":[-0.66,1.66],"nice":false,"zero":false}},"x2":{"field":"m2"},"y":{"field":"c","type":"quantitative","scale":{"domain":[0,200],"nice":false}}}},
{"mark":{"type":"rule","strokeWidth":1.5,"color":"#000"},"encoding":{"x":{"field":"e1","type":"quantitative","scale":{"domain":[-0.66,1.66],"nice":false,"zero":false}},"x2":{"field":"e2"},"y":{"field":"lo","type":"quantitative","scale":{"domain":[0,200],"nice":false}}}},
{"mark":{"type":"rule","strokeWidth":1.5,"color":"#000"},"encoding":{"x":{"field":"e1","type":"quantitative","scale":{"domain":[-0.66,1.66],"nice":false,"zero":false}},"x2":{"field":"e2"},"y":{"field":"hi","type":"quantitative","scale":{"domain":[0,200],"nice":false}}}},
{"mark":{"type":"rule","strokeWidth":1.5,"color":"#000"},"encoding":{"x":{"field":"gi","type":"quantitative","scale":{"domain":[-0.66,1.66],"nice":false,"zero":false}},"y":{"field":"lo","type":"quantitative","scale":{"domain":[0,200],"nice":false}},"y2":{"field":"hi"}}}]},
{"data":{"values":[{}]},
"layer":[
{"mark":{"type":"rule","color":"#222","strokeWidth":1.3},"encoding":{"x":{"datum":0,"type":"quantitative","scale":{"domain":[-0.66,1.66],"nice":false,"zero":false}},"x2":{"datum":1},"y":{"datum":200,"type":"quantitative","scale":{"domain":[0,200],"nice":false}}}},
{"mark":{"type":"rule","color":"#222","strokeWidth":1.3},"encoding":{"x":{"datum":0,"type":"quantitative","scale":{"domain":[-0.66,1.66],"nice":false,"zero":false}},"y":{"datum":200,"type":"quantitative","scale":{"domain":[0,200],"nice":false}},"y2":{"datum":193.6}}},
{"mark":{"type":"rule","color":"#222","strokeWidth":1.3},"encoding":{"x":{"datum":1,"type":"quantitative","scale":{"domain":[-0.66,1.66],"nice":false,"zero":false}},"y":{"datum":200,"type":"quantitative","scale":{"domain":[0,200],"nice":false}},"y2":{"datum":193.6}}},
{"mark":{"type":"text","fontSize":26,"fontWeight":"bold","align":"center","baseline":"alphabetic","color":"#000"},"encoding":{"x":{"datum":0.5,"type":"quantitative","scale":{"domain":[-0.66,1.66],"nice":false,"zero":false}},"y":{"datum":200,"type":"quantitative","scale":{"domain":[0,200],"nice":false}},"text":{"value":"*"}}},
{"mark":{"type":"rule","color":"#333","strokeWidth":1.3},"encoding":{"x":{"datum":0,"type":"quantitative","scale":{"domain":[-0.66,1.66],"nice":false,"zero":false}},"x2":{"datum":1},"y":{"datum":-44.4,"type":"quantitative","scale":{"domain":[0,200],"nice":false}}}},
{"mark":{"type":"rule","color":"#333","strokeWidth":1.3},"encoding":{"x":{"datum":0,"type":"quantitative","scale":{"domain":[-0.66,1.66],"nice":false,"zero":false}},"y":{"datum":-35.1,"type":"quantitative","scale":{"domain":[0,200],"nice":false}},"y2":{"datum":-44.4}}},
{"mark":{"type":"rule","color":"#333","strokeWidth":1.3},"encoding":{"x":{"datum":1,"type":"quantitative","scale":{"domain":[-0.66,1.66],"nice":false,"zero":false}},"y":{"datum":-35.1,"type":"quantitative","scale":{"domain":[0,200],"nice":false}},"y2":{"datum":-44.4}}},
{"mark":{"type":"text","fontSize":18,"align":"center","baseline":"alphabetic","color":"#222"},"encoding":{"x":{"datum":0.5,"type":"quantitative","scale":{"domain":[-0.66,1.66],"nice":false,"zero":false}},"y":{"datum":-61.4,"type":"quantitative","scale":{"domain":[0,200],"nice":false}},"text":{"value":"L1-Ref"}}},
{"mark":{"type":"text","fontSize":18,"fontWeight":"bold","align":"left","baseline":"alphabetic","color":"#000"},"encoding":{"x":{"datum":-1.365,"type":"quantitative","scale":{"domain":[-0.66,1.66],"nice":false,"zero":false}},"y":{"datum":225.7,"type":"quantitative","scale":{"domain":[0,200],"nice":false}},"text":{"value":"A"}}},
{"mark":{"type":"text","fontSize":18,"fontWeight":"bold","fontStyle":"italic","angle":270,"align":"right","baseline":"middle","color":"#000"},"encoding":{"x":{"datum":-1.26,"type":"quantitative","scale":{"domain":[-0.66,1.66],"nice":false,"zero":false}},"y":{"datum":63.9,"type":"quantitative","scale":{"domain":[0,200],"nice":false}},"text":{"value":"LINE-1"}}},
{"mark":{"type":"text","fontSize":18,"fontWeight":"bold","angle":270,"align":"left","baseline":"middle","dx":5,"color":"#000"},"encoding":{"x":{"datum":-1.26,"type":"quantitative","scale":{"domain":[-0.66,1.66],"nice":false,"zero":false}},"y":{"datum":63.9,"type":"quantitative","scale":{"domain":[0,200],"nice":false}},"text":{"value":"methylation level (%)"}}}]}]},
{"width":228,"height":342,
"layer":[
{"data":{"name":"B"},
"transform":[
{"calculate":"floor(datum.v/2)","as":"row"},
{"joinaggregate":[{"op":"count","as":"n"}],"groupby":["g","row"]},
{"window":[{"op":"row_number","as":"k"}],"groupby":["g","row"],"sort":[{"field":"v","order":"ascending"}]},
{"calculate":"(datum.g=='LC'?0:1)+0.048*(datum.n%2==1?(datum.k%2==0?1:-1)*floor(datum.k/2):(datum.k%2==1?1:-1)*(ceil(datum.k/2)-0.5))","as":"xs"}],
"mark":{"type":"square","size":5.5,"color":"#111","opacity":1},
"encoding":{
"x":{"field":"xs","type":"quantitative","scale":{"domain":[-0.66,1.66],"nice":false,"zero":false},"axis":{"values":[0,1],"labelExpr":"datum.value==0?['cfLC','(N = 224)']:['cfNC','(N = 247)']","labelLineHeight":23,"labelPadding":4,"labelAngle":0,"labelOverlap":false,"labelFontSize":19,"title":null}},
"y":{"field":"v","type":"quantitative","scale":{"domain":[0,220],"nice":false},"axis":{"values":[0,20,40,60,80,100,120,140,160,180,200,220],"tickCount":12,"labelOverlap":false,"labelFontSize":19,"labelPadding":2,"title":null}}}},
{"data":{"name":"S"},
"transform":[{"filter":"datum.p=='B'"},{"calculate":"datum.g=='LC'?0:1","as":"gi"},{"calculate":"datum.gi-0.32","as":"m1"},{"calculate":"datum.gi+0.32","as":"m2"},{"calculate":"datum.gi-0.17","as":"e1"},{"calculate":"datum.gi+0.17","as":"e2"}],
"layer":[
{"mark":{"type":"rule","strokeWidth":2.5,"color":"#000"},"encoding":{"x":{"field":"m1","type":"quantitative","scale":{"domain":[-0.66,1.66],"nice":false,"zero":false}},"x2":{"field":"m2"},"y":{"field":"c","type":"quantitative","scale":{"domain":[0,220],"nice":false}}}},
{"mark":{"type":"rule","strokeWidth":1.5,"color":"#000"},"encoding":{"x":{"field":"e1","type":"quantitative","scale":{"domain":[-0.66,1.66],"nice":false,"zero":false}},"x2":{"field":"e2"},"y":{"field":"lo","type":"quantitative","scale":{"domain":[0,220],"nice":false}}}},
{"mark":{"type":"rule","strokeWidth":1.5,"color":"#000"},"encoding":{"x":{"field":"e1","type":"quantitative","scale":{"domain":[-0.66,1.66],"nice":false,"zero":false}},"x2":{"field":"e2"},"y":{"field":"hi","type":"quantitative","scale":{"domain":[0,220],"nice":false}}}},
{"mark":{"type":"rule","strokeWidth":1.5,"color":"#000"},"encoding":{"x":{"field":"gi","type":"quantitative","scale":{"domain":[-0.66,1.66],"nice":false,"zero":false}},"y":{"field":"lo","type":"quantitative","scale":{"domain":[0,220],"nice":false}},"y2":{"field":"hi"}}}]},
{"data":{"values":[{}]},
"layer":[
{"mark":{"type":"rule","color":"#222","strokeWidth":1.3},"encoding":{"x":{"datum":0,"type":"quantitative","scale":{"domain":[-0.66,1.66],"nice":false,"zero":false}},"x2":{"datum":1},"y":{"datum":220,"type":"quantitative","scale":{"domain":[0,220],"nice":false}}}},
{"mark":{"type":"rule","color":"#222","strokeWidth":1.3},"encoding":{"x":{"datum":0,"type":"quantitative","scale":{"domain":[-0.66,1.66],"nice":false,"zero":false}},"y":{"datum":220,"type":"quantitative","scale":{"domain":[0,220],"nice":false}},"y2":{"datum":212.3}}},
{"mark":{"type":"rule","color":"#222","strokeWidth":1.3},"encoding":{"x":{"datum":1,"type":"quantitative","scale":{"domain":[-0.66,1.66],"nice":false,"zero":false}},"y":{"datum":220,"type":"quantitative","scale":{"domain":[0,220],"nice":false}},"y2":{"datum":212.3}}},
{"mark":{"type":"text","fontSize":26,"fontWeight":"bold","align":"center","baseline":"alphabetic","color":"#000"},"encoding":{"x":{"datum":0.5,"type":"quantitative","scale":{"domain":[-0.66,1.66],"nice":false,"zero":false}},"y":{"datum":220,"type":"quantitative","scale":{"domain":[0,220],"nice":false}},"text":{"value":"**"}}},
{"mark":{"type":"rule","color":"#333","strokeWidth":1.3},"encoding":{"x":{"datum":0,"type":"quantitative","scale":{"domain":[-0.66,1.66],"nice":false,"zero":false}},"x2":{"datum":1},"y":{"datum":-48.9,"type":"quantitative","scale":{"domain":[0,220],"nice":false}}}},
{"mark":{"type":"rule","color":"#333","strokeWidth":1.3},"encoding":{"x":{"datum":0,"type":"quantitative","scale":{"domain":[-0.66,1.66],"nice":false,"zero":false}},"y":{"datum":-38.6,"type":"quantitative","scale":{"domain":[0,220],"nice":false}},"y2":{"datum":-48.9}}},
{"mark":{"type":"rule","color":"#333","strokeWidth":1.3},"encoding":{"x":{"datum":1,"type":"quantitative","scale":{"domain":[-0.66,1.66],"nice":false,"zero":false}},"y":{"datum":-38.6,"type":"quantitative","scale":{"domain":[0,220],"nice":false}},"y2":{"datum":-48.9}}},
{"mark":{"type":"text","fontSize":18,"align":"center","baseline":"alphabetic","color":"#222"},"encoding":{"x":{"datum":0.5,"type":"quantitative","scale":{"domain":[-0.66,1.66],"nice":false,"zero":false}},"y":{"datum":-67.5,"type":"quantitative","scale":{"domain":[0,220],"nice":false}},"text":{"value":"Alu-Ref"}}},
{"mark":{"type":"text","fontSize":18,"fontWeight":"bold","align":"left","baseline":"alphabetic","color":"#000"},"encoding":{"x":{"datum":-1.38,"type":"quantitative","scale":{"domain":[-0.66,1.66],"nice":false,"zero":false}},"y":{"datum":250.2,"type":"quantitative","scale":{"domain":[0,220],"nice":false}},"text":{"value":"B"}}},
{"mark":{"type":"text","fontSize":18,"fontWeight":"bold","fontStyle":"italic","angle":270,"align":"right","baseline":"middle","color":"#000"},"encoding":{"x":{"datum":-1.26,"type":"quantitative","scale":{"domain":[-0.66,1.66],"nice":false,"zero":false}},"y":{"datum":57.3,"type":"quantitative","scale":{"domain":[0,220],"nice":false}},"text":{"value":"Alu"}}},
{"mark":{"type":"text","fontSize":18,"fontWeight":"bold","angle":270,"align":"left","baseline":"middle","dx":5,"color":"#000"},"encoding":{"x":{"datum":-1.26,"type":"quantitative","scale":{"domain":[-0.66,1.66],"nice":false,"zero":false}},"y":{"datum":57.3,"type":"quantitative","scale":{"domain":[0,220],"nice":false}},"text":{"value":"methylation level (%)"}}}]}]},
{"width":228,"height":337,
"layer":[
{"data":{"name":"C"},
"transform":[
{"calculate":"floor(datum.v/4)","as":"row"},
{"joinaggregate":[{"op":"count","as":"n"}],"groupby":["g","row"]},
{"window":[{"op":"row_number","as":"k"}],"groupby":["g","row"],"sort":[{"field":"v","order":"ascending"}]},
{"calculate":"(datum.g=='LC'?0:1)+0.048*(datum.n%2==1?(datum.k%2==0?1:-1)*floor(datum.k/2):(datum.k%2==1?1:-1)*(ceil(datum.k/2)-0.5))","as":"xs"}],
"mark":{"type":"square","size":5.5,"color":"#111","opacity":1},
"encoding":{
"x":{"field":"xs","type":"quantitative","scale":{"domain":[-0.66,1.66],"nice":false,"zero":false},"axis":{"values":[0,1],"labelExpr":"datum.value==0?['cfLC','(N = 132)']:['cfNC','(N = 136)']","labelLineHeight":23,"labelPadding":4,"labelAngle":0,"labelOverlap":false,"labelFontSize":19,"title":null}},
"y":{"field":"v","type":"quantitative","scale":{"domain":[0,300],"nice":false},"axis":{"values":[0,50,100,150,200,250,300],"tickCount":7,"labelOverlap":false,"labelFontSize":19,"labelPadding":2,"title":null}}}},
{"data":{"name":"S"},
"transform":[{"filter":"datum.p=='C'"},{"calculate":"datum.g=='LC'?0:1","as":"gi"},{"calculate":"datum.gi-0.32","as":"m1"},{"calculate":"datum.gi+0.32","as":"m2"},{"calculate":"datum.gi-0.17","as":"e1"},{"calculate":"datum.gi+0.17","as":"e2"}],
"layer":[
{"mark":{"type":"rule","strokeWidth":2.5,"color":"#000"},"encoding":{"x":{"field":"m1","type":"quantitative","scale":{"domain":[-0.66,1.66],"nice":false,"zero":false}},"x2":{"field":"m2"},"y":{"field":"c","type":"quantitative","scale":{"domain":[0,300],"nice":false}}}},
{"mark":{"type":"rule","strokeWidth":1.5,"color":"#000"},"encoding":{"x":{"field":"e1","type":"quantitative","scale":{"domain":[-0.66,1.66],"nice":false,"zero":false}},"x2":{"field":"e2"},"y":{"field":"lo","type":"quantitative","scale":{"domain":[0,300],"nice":false}}}},
{"mark":{"type":"rule","strokeWidth":1.5,"color":"#000"},"encoding":{"x":{"field":"e1","type":"quantitative","scale":{"domain":[-0.66,1.66],"nice":false,"zero":false}},"x2":{"field":"e2"},"y":{"field":"hi","type":"quantitative","scale":{"domain":[0,300],"nice":false}}}},
{"mark":{"type":"rule","strokeWidth":1.5,"color":"#000"},"encoding":{"x":{"field":"gi","type":"quantitative","scale":{"domain":[-0.66,1.66],"nice":false,"zero":false}},"y":{"field":"lo","type":"quantitative","scale":{"domain":[0,300],"nice":false}},"y2":{"field":"hi"}}}]},
{"data":{"values":[{}]},
"layer":[
{"mark":{"type":"rule","color":"#222","strokeWidth":1.3},"encoding":{"x":{"datum":0,"type":"quantitative","scale":{"domain":[-0.66,1.66],"nice":false,"zero":false}},"x2":{"datum":1},"y":{"datum":300,"type":"quantitative","scale":{"domain":[0,300],"nice":false}}}},
{"mark":{"type":"rule","color":"#222","strokeWidth":1.3},"encoding":{"x":{"datum":0,"type":"quantitative","scale":{"domain":[-0.66,1.66],"nice":false,"zero":false}},"y":{"datum":300,"type":"quantitative","scale":{"domain":[0,300],"nice":false}},"y2":{"datum":289.3}}},
{"mark":{"type":"rule","color":"#222","strokeWidth":1.3},"encoding":{"x":{"datum":1,"type":"quantitative","scale":{"domain":[-0.66,1.66],"nice":false,"zero":false}},"y":{"datum":300,"type":"quantitative","scale":{"domain":[0,300],"nice":false}},"y2":{"datum":289.3}}},
{"mark":{"type":"text","fontSize":26,"fontWeight":"bold","align":"center","baseline":"alphabetic","color":"#000"},"encoding":{"x":{"datum":0.5,"type":"quantitative","scale":{"domain":[-0.66,1.66],"nice":false,"zero":false}},"y":{"datum":300,"type":"quantitative","scale":{"domain":[0,300],"nice":false}},"text":{"value":"*"}}},
{"mark":{"type":"rule","color":"#333","strokeWidth":1.3},"encoding":{"x":{"datum":0,"type":"quantitative","scale":{"domain":[-0.66,1.66],"nice":false,"zero":false}},"x2":{"datum":1},"y":{"datum":-67.7,"type":"quantitative","scale":{"domain":[0,300],"nice":false}}}},
{"mark":{"type":"rule","color":"#333","strokeWidth":1.3},"encoding":{"x":{"datum":0,"type":"quantitative","scale":{"domain":[-0.66,1.66],"nice":false,"zero":false}},"y":{"datum":-53.4,"type":"quantitative","scale":{"domain":[0,300],"nice":false}},"y2":{"datum":-67.7}}},
{"mark":{"type":"rule","color":"#333","strokeWidth":1.3},"encoding":{"x":{"datum":1,"type":"quantitative","scale":{"domain":[-0.66,1.66],"nice":false,"zero":false}},"y":{"datum":-53.4,"type":"quantitative","scale":{"domain":[0,300],"nice":false}},"y2":{"datum":-67.7}}},
{"mark":{"type":"text","fontSize":18,"align":"center","baseline":"alphabetic","color":"#222"},"encoding":{"x":{"datum":0.5,"type":"quantitative","scale":{"domain":[-0.66,1.66],"nice":false,"zero":false}},"y":{"datum":-93.5,"type":"quantitative","scale":{"domain":[0,300],"nice":false}},"text":{"value":"L1-Ref"}}},
{"mark":{"type":"text","fontSize":18,"fontWeight":"bold","align":"left","baseline":"alphabetic","color":"#000"},"encoding":{"x":{"datum":-1.365,"type":"quantitative","scale":{"domain":[-0.66,1.66],"nice":false,"zero":false}},"y":{"datum":329.4,"type":"quantitative","scale":{"domain":[0,300],"nice":false}},"text":{"value":"C"}}},
{"mark":{"type":"text","fontSize":18,"fontWeight":"bold","fontStyle":"italic","angle":270,"align":"right","baseline":"middle","color":"#000"},"encoding":{"x":{"datum":-1.26,"type":"quantitative","scale":{"domain":[-0.66,1.66],"nice":false,"zero":false}},"y":{"datum":81.9,"type":"quantitative","scale":{"domain":[0,300],"nice":false}},"text":{"value":"Alu"}}},
{"mark":{"type":"text","fontSize":18,"fontWeight":"bold","angle":270,"align":"left","baseline":"middle","dx":5,"color":"#000"},"encoding":{"x":{"datum":-1.26,"type":"quantitative","scale":{"domain":[-0.66,1.66],"nice":false,"zero":false}},"y":{"datum":81.9,"type":"quantitative","scale":{"domain":[0,300],"nice":false}},"text":{"value":"methylation level (%)"}}}]}]},
{"width":228,"height":337,
"layer":[
{"data":{"name":"D"},
"transform":[
{"calculate":"floor(datum.v/4)","as":"row"},
{"joinaggregate":[{"op":"count","as":"n"}],"groupby":["g","row"]},
{"window":[{"op":"row_number","as":"k"}],"groupby":["g","row"],"sort":[{"field":"v","order":"ascending"}]},
{"calculate":"(datum.g=='LC'?0:1)+0.048*(datum.n%2==1?(datum.k%2==0?1:-1)*floor(datum.k/2):(datum.k%2==1?1:-1)*(ceil(datum.k/2)-0.5))","as":"xs"}],
"mark":{"type":"square","size":5.5,"color":"#111","opacity":1},
"encoding":{
"x":{"field":"xs","type":"quantitative","scale":{"domain":[-0.66,1.66],"nice":false,"zero":false},"axis":{"values":[0,1],"labelExpr":"datum.value==0?['cfLC','(N = 106)']:['cfNC','(N = 119)']","labelLineHeight":23,"labelPadding":4,"labelAngle":0,"labelOverlap":false,"labelFontSize":19,"title":null}},
"y":{"field":"v","type":"quantitative","scale":{"domain":[0,300],"nice":false},"axis":{"values":[0,50,100,150,200,250,300],"tickCount":7,"labelOverlap":false,"labelFontSize":19,"labelPadding":2,"title":null}}}},
{"data":{"name":"S"},
"transform":[{"filter":"datum.p=='D'"},{"calculate":"datum.g=='LC'?0:1","as":"gi"},{"calculate":"datum.gi-0.32","as":"m1"},{"calculate":"datum.gi+0.32","as":"m2"},{"calculate":"datum.gi-0.17","as":"e1"},{"calculate":"datum.gi+0.17","as":"e2"}],
"layer":[
{"mark":{"type":"rule","strokeWidth":2.5,"color":"#000"},"encoding":{"x":{"field":"m1","type":"quantitative","scale":{"domain":[-0.66,1.66],"nice":false,"zero":false}},"x2":{"field":"m2"},"y":{"field":"c","type":"quantitative","scale":{"domain":[0,300],"nice":false}}}},
{"mark":{"type":"rule","strokeWidth":1.5,"color":"#000"},"encoding":{"x":{"field":"e1","type":"quantitative","scale":{"domain":[-0.66,1.66],"nice":false,"zero":false}},"x2":{"field":"e2"},"y":{"field":"lo","type":"quantitative","scale":{"domain":[0,300],"nice":false}}}},
{"mark":{"type":"rule","strokeWidth":1.5,"color":"#000"},"encoding":{"x":{"field":"e1","type":"quantitative","scale":{"domain":[-0.66,1.66],"nice":false,"zero":false}},"x2":{"field":"e2"},"y":{"field":"hi","type":"quantitative","scale":{"domain":[0,300],"nice":false}}}},
{"mark":{"type":"rule","strokeWidth":1.5,"color":"#000"},"encoding":{"x":{"field":"gi","type":"quantitative","scale":{"domain":[-0.66,1.66],"nice":false,"zero":false}},"y":{"field":"lo","type":"quantitative","scale":{"domain":[0,300],"nice":false}},"y2":{"field":"hi"}}}]},
{"data":{"values":[{}]},
"layer":[
{"mark":{"type":"rule","color":"#222","strokeWidth":1.3},"encoding":{"x":{"datum":0,"type":"quantitative","scale":{"domain":[-0.66,1.66],"nice":false,"zero":false}},"x2":{"datum":1},"y":{"datum":300,"type":"quantitative","scale":{"domain":[0,300],"nice":false}}}},
{"mark":{"type":"rule","color":"#222","strokeWidth":1.3},"encoding":{"x":{"datum":0,"type":"quantitative","scale":{"domain":[-0.66,1.66],"nice":false,"zero":false}},"y":{"datum":300,"type":"quantitative","scale":{"domain":[0,300],"nice":false}},"y2":{"datum":289.3}}},
{"mark":{"type":"rule","color":"#222","strokeWidth":1.3},"encoding":{"x":{"datum":1,"type":"quantitative","scale":{"domain":[-0.66,1.66],"nice":false,"zero":false}},"y":{"datum":300,"type":"quantitative","scale":{"domain":[0,300],"nice":false}},"y2":{"datum":289.3}}},
{"mark":{"type":"text","fontSize":26,"fontWeight":"bold","align":"center","baseline":"alphabetic","color":"#000"},"encoding":{"x":{"datum":0.5,"type":"quantitative","scale":{"domain":[-0.66,1.66],"nice":false,"zero":false}},"y":{"datum":300,"type":"quantitative","scale":{"domain":[0,300],"nice":false}},"text":{"value":"*"}}},
{"mark":{"type":"rule","color":"#333","strokeWidth":1.3},"encoding":{"x":{"datum":0,"type":"quantitative","scale":{"domain":[-0.66,1.66],"nice":false,"zero":false}},"x2":{"datum":1},"y":{"datum":-67.7,"type":"quantitative","scale":{"domain":[0,300],"nice":false}}}},
{"mark":{"type":"rule","color":"#333","strokeWidth":1.3},"encoding":{"x":{"datum":0,"type":"quantitative","scale":{"domain":[-0.66,1.66],"nice":false,"zero":false}},"y":{"datum":-53.4,"type":"quantitative","scale":{"domain":[0,300],"nice":false}},"y2":{"datum":-67.7}}},
{"mark":{"type":"rule","color":"#333","strokeWidth":1.3},"encoding":{"x":{"datum":1,"type":"quantitative","scale":{"domain":[-0.66,1.66],"nice":false,"zero":false}},"y":{"datum":-53.4,"type":"quantitative","scale":{"domain":[0,300],"nice":false}},"y2":{"datum":-67.7}}},
{"mark":{"type":"text","fontSize":18,"align":"center","baseline":"alphabetic","color":"#222"},"encoding":{"x":{"datum":0.5,"type":"quantitative","scale":{"domain":[-0.66,1.66],"nice":false,"zero":false}},"y":{"datum":-93.5,"type":"quantitative","scale":{"domain":[0,300],"nice":false}},"text":{"value":"Alu-Ref"}}},
{"mark":{"type":"text","fontSize":18,"fontWeight":"bold","align":"left","baseline":"alphabetic","color":"#000"},"encoding":{"x":{"datum":-1.38,"type":"quantitative","scale":{"domain":[-0.66,1.66],"nice":false,"zero":false}},"y":{"datum":329.4,"type":"quantitative","scale":{"domain":[0,300],"nice":false}},"text":{"value":"D"}}},
{"mark":{"type":"text","fontSize":18,"fontWeight":"bold","fontStyle":"italic","angle":270,"align":"right","baseline":"middle","color":"#000"},"encoding":{"x":{"datum":-1.26,"type":"quantitative","scale":{"domain":[-0.66,1.66],"nice":false,"zero":false}},"y":{"datum":101.7,"type":"quantitative","scale":{"domain":[0,300],"nice":false}},"text":{"value":"LINE-1"}}},
{"mark":{"type":"text","fontSize":18,"fontWeight":"bold","angle":270,"align":"left","baseline":"middle","dx":5,"color":"#000"},"encoding":{"x":{"datum":-1.26,"type":"quantitative","scale":{"domain":[-0.66,1.66],"nice":false,"zero":false}},"y":{"datum":101.7,"type":"quantitative","scale":{"domain":[0,300],"nice":false}},"text":{"value":"methylation level (%)"}}}]}]}
]
}
